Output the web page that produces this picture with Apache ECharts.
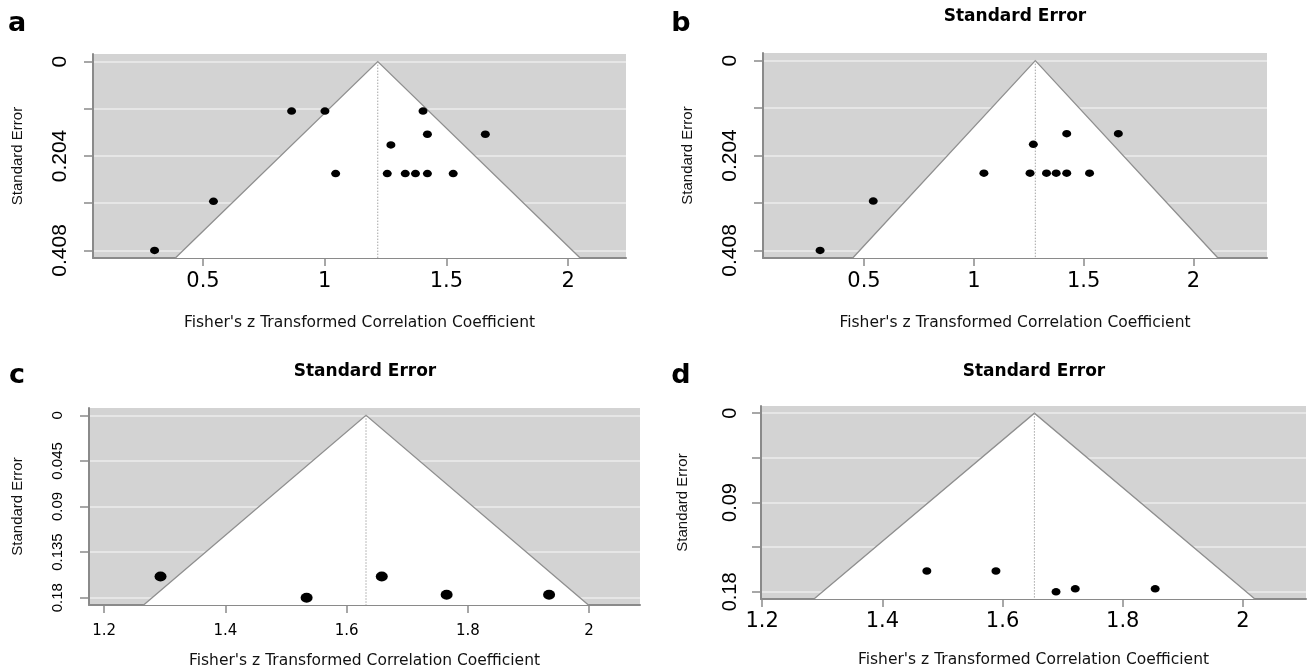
<!DOCTYPE html>
<html><head><meta charset="utf-8">
<script src="https://cdn.jsdelivr.net/npm/echarts@6/dist/echarts.min.js"></script>
<style>html,body{margin:0;padding:0;background:#fff}#c{width:1309px;height:670px}</style>
</head><body><div id="c"></div>
<script>
// ---- data ----
const aX  = [0.301, 0.543, 0.864, 1.001, 1.404, 1.045, 1.257, 1.331, 1.373, 1.422, 1.528, 1.422, 1.660, 1.272];
const aSE = [0.408, 0.302, 0.107, 0.107, 0.107, 0.242, 0.242, 0.242, 0.242, 0.242, 0.242, 0.157, 0.157, 0.180];
const aEstimate = 1.218;

const bX  = [0.300, 0.542, 1.046, 1.256, 1.331, 1.375, 1.423, 1.527, 1.271, 1.423, 1.658];
const bSE = [0.408, 0.302, 0.242, 0.242, 0.242, 0.242, 0.242, 0.242, 0.180, 0.157, 0.157];
const bEstimate = 1.28;

const cX  = [1.293, 1.534, 1.658, 1.765, 1.934];
const cSE = [0.159, 0.180, 0.159, 0.177, 0.177];
const cEstimate = 1.632;

const dX  = [1.474, 1.589, 1.689, 1.721, 1.854];
const dSE = [0.159, 0.159, 0.180, 0.177, 0.177];
const dEstimate = 1.653;

const abXTicks = [0.5, 1, 1.5, 2];
const abYTicks = [0, 0.102, 0.204, 0.306, 0.408];
const abYLabels = [0, 0.204, 0.408];
const cdXTicks = [1.2, 1.4, 1.6, 1.8, 2];
const cdYTicks = [0, 0.045, 0.09, 0.135, 0.18];
const cYLabels = [0, 0.045, 0.09, 0.135, 0.18];
const dYLabels = [0, 0.09, 0.18];

const panelLetters = ['a', 'b', 'c', 'd'];
const panelTitle = 'Standard Error';
const xTitle = "Fisher's z Transformed Correlation Coefficient";
const yTitle = 'Standard Error';

// ---- layout / style ----
const panels = [
  { x: aX, se: aSE, est: aEstimate, xTicks: abXTicks, yTicks: abYTicks, yLabels: abYLabels,
    grid: { left: 93, top: 54, width: 533, height: 204 }, xMin: 0.048, xMax: 2.238, yMin: -0.0163, yMax: 0.4243,
    xLabelSize: 21, yLabelSize: 21, xLabelMargin: 13, yLabelMargin: 22, xNameGap: 57, yNameGap: 68, dot: [9, 7.5] },
  { x: bX, se: bSE, est: bEstimate, xTicks: abXTicks, yTicks: abYTicks, yLabels: abYLabels,
    grid: { left: 763, top: 53, width: 504, height: 205 }, xMin: 0.040, xMax: 2.335, yMin: -0.0163, yMax: 0.4243,
    xLabelSize: 21, yLabelSize: 21, xLabelMargin: 13, yLabelMargin: 22, xNameGap: 57, yNameGap: 68, dot: [9, 7.5] },
  { x: cX, se: cSE, est: cEstimate, xTicks: cdXTicks, yTicks: cdYTicks, yLabels: cYLabels,
    grid: { left: 89, top: 408, width: 551, height: 197 }, xMin: 1.175, xMax: 2.084, yMin: -0.0072, yMax: 0.1872,
    xLabelSize: 15, yLabelSize: 15, xLabelMargin: 19, yLabelMargin: 24, xNameGap: 48, yNameGap: 64, dot: [12, 10] },
  { x: dX, se: dSE, est: dEstimate, xTicks: cdXTicks, yTicks: cdYTicks, yLabels: dYLabels,
    grid: { left: 761, top: 406, width: 545, height: 193 }, xMin: 1.198, xMax: 2.105, yMin: -0.0072, yMax: 0.1872,
    xLabelSize: 21, yLabelSize: 20, xLabelMargin: 12, yLabelMargin: 21, xNameGap: 53, yNameGap: 71, dot: [9, 7.5] }
];

const AXIS_COLOR = '#8a8a8a';
const FONT = 'DejaVu Sans';

const grids = [], xAxes = [], yAxes = [], series = [];
panels.forEach((p, i) => {
  grids.push(Object.assign({ show: true, backgroundColor: '#d3d3d3', borderWidth: 0 }, p.grid));
  xAxes.push({
    type: 'value', gridIndex: i, min: p.xMin, max: p.xMax, position: 'bottom',
    name: xTitle, nameLocation: 'middle', nameGap: p.xNameGap,
    nameTextStyle: { fontFamily: FONT, fontSize: 15.5, color: '#111' },
    axisLine: { show: true, onZero: false, lineStyle: { color: AXIS_COLOR, width: 2 } },
    axisTick: { show: true, length: 8, customValues: p.xTicks, lineStyle: { color: AXIS_COLOR, width: 1.5 } },
    axisLabel: { customValues: p.xTicks, fontFamily: FONT, fontSize: p.xLabelSize, color: '#000', margin: p.xLabelMargin },
    splitLine: { show: false }
  });
  yAxes.push({
    type: 'value', gridIndex: i, min: p.yMin, max: p.yMax, inverse: true, position: 'left',
    name: yTitle, nameLocation: 'middle', nameGap: p.yNameGap,
    nameTextStyle: { fontFamily: 'Liberation Sans', fontSize: 15, color: '#111' },
    axisLine: { show: true, onZero: false, lineStyle: { color: AXIS_COLOR, width: 2 } },
    axisTick: { show: true, length: 9, customValues: p.yTicks, lineStyle: { color: AXIS_COLOR, width: 1.5 } },
    axisLabel: { customValues: p.yLabels, rotate: 90, fontFamily: 'Liberation Sans', fontSize: p.yLabelSize, color: '#000', margin: p.yLabelMargin },
    splitLine: { show: true, lineStyle: { color: '#ededed', width: 1.5 } }
  });
  series.push({
    type: 'custom', xAxisIndex: i, yAxisIndex: i, silent: true, z: 1,
    data: [[p.est, p.yMax]],
    renderItem: function (params, api) {
      const e = api.value(0), s = api.value(1);
      const p0 = api.coord([e - 1.96 * s, s]);
      const p1 = api.coord([e, 0]);
      const p2 = api.coord([e + 1.96 * s, s]);
      return { type: 'group', children: [
        { type: 'polygon', shape: { points: [p0, p1, p2] }, style: { fill: '#ffffff' } },
        { type: 'polyline', shape: { points: [p0, p1, p2] }, style: { fill: null, stroke: '#8f8f8f', lineWidth: 1.3 } },
        { type: 'line', shape: { x1: p1[0], y1: p1[1], x2: p1[0], y2: p0[1] }, style: { stroke: '#a5a5a5', lineWidth: 1, lineDash: [1.5, 1.5] } }
      ]};
    }
  });
  series.push({
    type: 'scatter', xAxisIndex: i, yAxisIndex: i, z: 3, silent: true,
    symbol: 'circle', symbolSize: p.dot,
    itemStyle: { color: '#000', opacity: 1 },
    data: p.x.map((v, k) => [v, p.se[k]])
  });
});

const letterFont = 'bold 27px "DejaVu Sans"';
const titleFont = 'bold 17px "DejaVu Sans"';
const graphics = [
  { type: 'text', x: 17, y: 24, style: { text: panelLetters[0], font: letterFont, fill: '#000', align: 'center', verticalAlign: 'middle' } },
  { type: 'text', x: 681, y: 24, style: { text: panelLetters[1], font: letterFont, fill: '#000', align: 'center', verticalAlign: 'middle' } },
  { type: 'text', x: 17, y: 376, style: { text: panelLetters[2], font: letterFont, fill: '#000', align: 'center', verticalAlign: 'middle' } },
  { type: 'text', x: 681, y: 376, style: { text: panelLetters[3], font: letterFont, fill: '#000', align: 'center', verticalAlign: 'middle' } },
  { type: 'text', x: 1015, y: 17, style: { text: panelTitle, font: titleFont, fill: '#000', align: 'center', verticalAlign: 'middle' } },
  { type: 'text', x: 365, y: 372, style: { text: panelTitle, font: titleFont, fill: '#000', align: 'center', verticalAlign: 'middle' } },
  { type: 'text', x: 1034, y: 372, style: { text: panelTitle, font: titleFont, fill: '#000', align: 'center', verticalAlign: 'middle' } }
];

const chart = echarts.init(document.getElementById('c'), null, { renderer: 'canvas' });
chart.setOption({
  animation: false,
  backgroundColor: '#fff',
  grid: grids, xAxis: xAxes, yAxis: yAxes, series: series,
  graphic: graphics
});
</script>
</body></html>
